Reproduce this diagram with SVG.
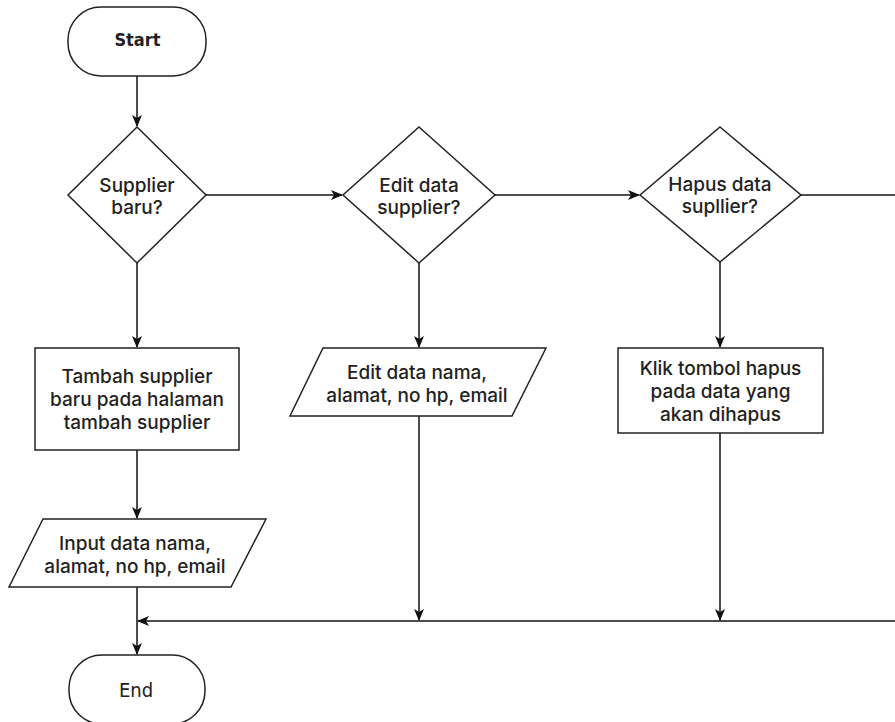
<svg xmlns="http://www.w3.org/2000/svg" width="895" height="722" viewBox="0 0 895 722">
<defs>
<style>
.sh{fill:#fff;stroke:#222;stroke-width:1.5}
.ln{fill:none;stroke:#111;stroke-width:1.5}
.t{font-family:Inter,"Liberation Sans",sans-serif;font-size:19px;font-weight:500;fill:#222;text-anchor:middle}
.term{font-family:"DejaVu Sans Condensed","DejaVu Sans",sans-serif;font-stretch:condensed;fill:#222;text-anchor:middle}
</style>
<marker id="ah" viewBox="0 0 12 10" refX="11" refY="5" markerWidth="12" markerHeight="10" markerUnits="userSpaceOnUse" orient="auto">
<path d="M0,0 L12,5 L0,10 L3,5 Z" fill="#111"/>
</marker>
</defs>
<rect width="895" height="722" fill="#fff"/>
<g id="connectors">
<line class="ln" x1="137" y1="76" x2="137" y2="126" marker-end="url(#ah)"/>
<line class="ln" x1="206" y1="195" x2="342" y2="195" marker-end="url(#ah)"/>
<line class="ln" x1="495" y1="195" x2="639" y2="195" marker-end="url(#ah)"/>
<line class="ln" x1="801" y1="195" x2="895" y2="195"/>
<line class="ln" x1="137" y1="263" x2="137" y2="347" marker-end="url(#ah)"/>
<line class="ln" x1="137" y1="450" x2="137" y2="518" marker-end="url(#ah)"/>
<line class="ln" x1="137" y1="587" x2="137" y2="654" marker-end="url(#ah)"/>
<line class="ln" x1="419" y1="263" x2="419" y2="347" marker-end="url(#ah)"/>
<line class="ln" x1="419" y1="416" x2="419" y2="620" marker-end="url(#ah)"/>
<line class="ln" x1="720" y1="262" x2="720" y2="347" marker-end="url(#ah)"/>
<line class="ln" x1="720" y1="433" x2="720" y2="620" marker-end="url(#ah)"/>
<line class="ln" x1="895" y1="621" x2="138" y2="621" marker-end="url(#ah)"/>
</g>
<g id="start">
<rect class="sh" x="68" y="7" width="138" height="69" rx="33" ry="33"/>
<text class="term" x="137.5" y="46" font-size="18" font-weight="bold">Start</text>
</g>
<g id="dec-baru">
<polygon class="sh" points="137,127 206,195 137,263 68,195"/>
<text class="t" x="137" y="192">Supplier</text>
<text class="t" x="137" y="214">baru?</text>
</g>
<g id="dec-edit">
<polygon class="sh" points="419,127 495,195 419,263 343,195"/>
<text class="t" x="419" y="192">Edit data</text>
<text class="t" x="419" y="214">supplier?</text>
</g>
<g id="dec-hapus">
<polygon class="sh" points="720,127 801,195 720,262 640,195"/>
<text class="t" x="720" y="191">Hapus data</text>
<text class="t" x="720" y="213">supllier?</text>
</g>
<g id="tambah">
<rect class="sh" x="35" y="348" width="204" height="102"/>
<text class="t" x="137" y="383">Tambah supplier</text>
<text class="t" x="137" y="406">baru pada halaman</text>
<text class="t" x="137" y="429">tambah supplier</text>
</g>
<g id="input">
<polygon class="sh" points="43,519 266,519 231,587 9,587"/>
<text class="t" x="135" y="550">Input data nama,</text>
<text class="t" x="135" y="573">alamat, no hp, email</text>
</g>
<g id="edit">
<polygon class="sh" points="323,348 546,348 512,416 290,416"/>
<text class="t" x="417" y="379">Edit data nama,</text>
<text class="t" x="417" y="402">alamat, no hp, email</text>
</g>
<g id="klik">
<rect class="sh" x="618" y="348" width="205" height="85"/>
<text class="t" x="720.5" y="375">Klik tombol hapus</text>
<text class="t" x="720.5" y="398">pada data yang</text>
<text class="t" x="720.5" y="421">akan dihapus</text>
</g>
<g id="end">
<rect class="sh" x="69" y="655" width="136" height="69" rx="33" ry="33"/>
<text class="term" x="136" y="697" font-size="20">End</text>
</g>
</svg>
